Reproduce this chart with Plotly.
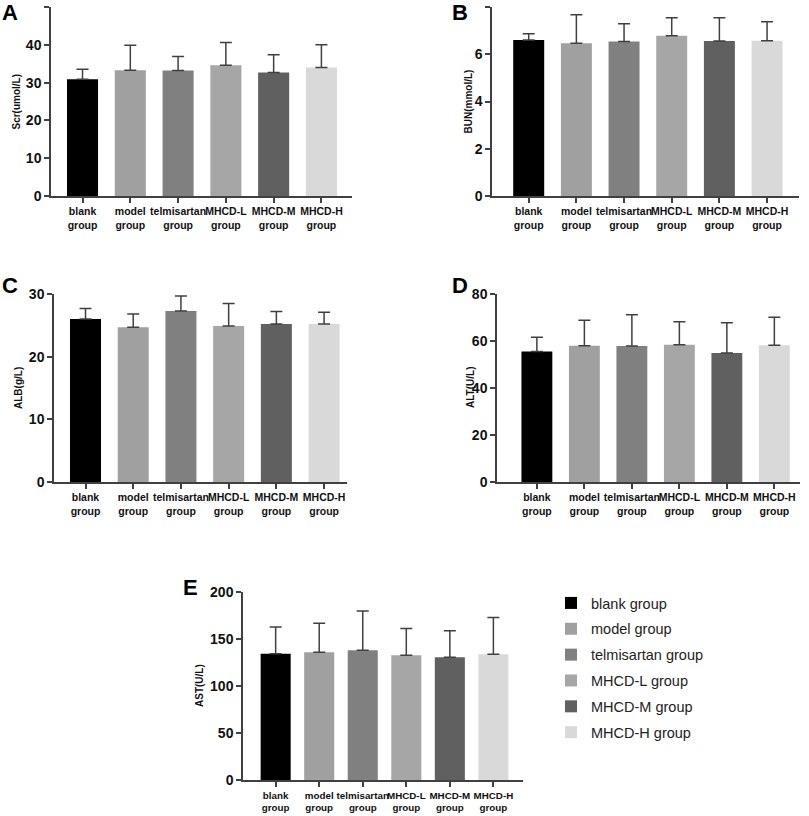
import plotly.graph_objects as go

# group names, tick labels and bar fills
groups = ["blank group", "model group", "telmisartan group",
          "MHCD-L group", "MHCD-M group", "MHCD-H group"]
tick_text = ["blank<br>group", "model<br>group", "telmisartan<br>group",
             "MHCD-L<br>group", "MHCD-M<br>group", "MHCD-H<br>group"]
colors = ["#000000", "#a0a0a0", "#808080", "#a6a6a6", "#606060", "#d9d9d9"]

# mean and SD per group
scr_mean = [30.9, 33.3, 33.2, 34.6, 32.7, 34.0]
scr_sd = [2.6, 6.6, 3.7, 6.0, 4.7, 6.0]
scr_ticks = [0, 10, 20, 30, 40, 50]

bun_mean = [6.60, 6.47, 6.54, 6.78, 6.56, 6.57]
bun_sd = [0.27, 1.20, 0.75, 0.77, 0.99, 0.81]
bun_ticks = [0, 2, 4, 6, 8]

alb_mean = [26.0, 24.7, 27.3, 24.9, 25.2, 25.2]
alb_sd = [1.7, 2.1, 2.4, 3.6, 2.0, 1.9]
alb_ticks = [0, 10, 20, 30]

alt_mean = [55.5, 58.0, 57.9, 58.4, 54.9, 58.2]
alt_sd = [6.1, 10.8, 13.3, 9.8, 12.9, 11.9]
alt_ticks = [0, 20, 40, 60, 80]

ast_mean = [134.4, 135.8, 137.9, 132.6, 130.5, 133.7]
ast_sd = [28.4, 30.9, 41.9, 28.7, 28.4, 39.3]
ast_ticks = [0, 50, 100, 150, 200]

W, H = 809, 816
FONT = "Arial, Liberation Sans, sans-serif"
AXIS_COLOR = "#404040"

# letter, y title, mean, sd, y ticks, pixel box (x0, x1, ytop, ybottom),
# x range, bar width, category font size, letter pos, y title x
panels = [
    ("A", "Scr(umol/L)", scr_mean, scr_sd, scr_ticks,
     (51, 352, 7, 196), [-0.66, 5.64], 0.65, 10.5, (10, 13), 16),
    ("B", "BUN(mmol/L)", bun_mean, bun_sd, bun_ticks,
     (492, 799, 7, 196), [-0.77, 5.67], 0.65, 10.5, (460, 13), 468),
    ("C", "ALB(g/L)", alb_mean, alb_sd, alb_ticks,
     (54, 347, 294, 482), [-0.66, 5.48], 0.65, 10.5, (10, 285), 18),
    ("D", "ALT(U/L)", alt_mean, alt_sd, alt_ticks,
     (497, 800, 294, 482), [-0.84, 5.54], 0.65, 10.5, (460, 285), 470),
    ("E", "AST(U/L)", ast_mean, ast_sd, ast_ticks,
     (243, 523, 592, 780), [-0.75, 5.68], 0.69, 9.8, (190, 587), 199),
]

fig = go.Figure()
annotations = []
axes = {}

for n, (letter, title, mean, sd, yticks, box, xr, bw, cat_size, lpos,
        tx) in enumerate(panels, start=1):
    suffix = "" if n == 1 else str(n)
    x0, x1, yt, yb = box
    last = n == len(panels)

    # one trace per group so the last panel can carry the legend
    for i, g in enumerate(groups):
        fig.add_trace(
            go.Bar(x=[i],
                   y=[mean[i]],
                   width=bw,
                   name=g,
                   legendgroup=g if last else None,
                   marker=dict(color=colors[i], line=dict(width=0)),
                   error_y=dict(type="data",
                                symmetric=False,
                                array=[sd[i]],
                                arrayminus=[0],
                                color=AXIS_COLOR,
                                thickness=1.5,
                                width=6),
                   showlegend=last,
                   xaxis="x" + suffix,
                   yaxis="y" + suffix))

    common = dict(ticks="outside",
                  ticklen=5,
                  tickwidth=1.5,
                  tickcolor=AXIS_COLOR,
                  showline=True,
                  linecolor=AXIS_COLOR,
                  linewidth=1.5,
                  showgrid=False,
                  zeroline=False,
                  automargin=False,
                  fixedrange=True)
    axes["xaxis" + suffix] = dict(
        domain=[x0 / W, x1 / W],
        anchor="y" + suffix,
        range=xr,
        tickmode="array",
        tickvals=list(range(len(groups))),
        ticktext=["<b>" + t.replace("<br>", "</b><br><b>") + "</b>"
                  for t in tick_text],
        tickangle=0,
        tickfont=dict(family=FONT, size=cat_size, color="#111"),
        **common)
    axes["yaxis" + suffix] = dict(
        domain=[1 - yb / H, 1 - yt / H],
        anchor="x" + suffix,
        range=[0, yticks[-1]],
        tickmode="array",
        tickvals=yticks,
        ticktext=["<b>%d</b>" % v for v in yticks],
        tickfont=dict(family=FONT, size=14, color="#111"),
        **common)

    # panel letter
    annotations.append(
        dict(text="<b>" + letter + "</b>", x=lpos[0] / W, y=1 - lpos[1] / H,
             xref="paper", yref="paper", showarrow=False,
             xanchor="center", yanchor="middle",
             font=dict(family=FONT, size=22, color="#000")))
    # y axis title
    annotations.append(
        dict(text="<b>" + title + "</b>", x=tx / W, y=1 - (yt + yb) / 2 / H,
             xref="paper", yref="paper", showarrow=False, textangle=-90,
             xanchor="center", yanchor="middle",
             font=dict(family=FONT, size=10, color="#111")))

fig.update_layout(width=W,
                  height=H,
                  margin=dict(l=0, r=0, t=0, b=0),
                  paper_bgcolor="white",
                  plot_bgcolor="white",
                  barmode="overlay",
                  hovermode=False,
                  annotations=annotations,
                  legend=dict(x=551 / W,
                              y=1 - 587 / H,
                              xanchor="left",
                              yanchor="top",
                              tracegroupgap=4,
                              bgcolor="rgba(0,0,0,0)",
                              font=dict(family=FONT, size=14.5,
                                        color="#222")),
                  **axes)

# drop the default page margin so the figure sits at the window's corner
fig.write_html("out.html",
               config={"displayModeBar": False},
               post_script="document.body.style.margin='0';")
